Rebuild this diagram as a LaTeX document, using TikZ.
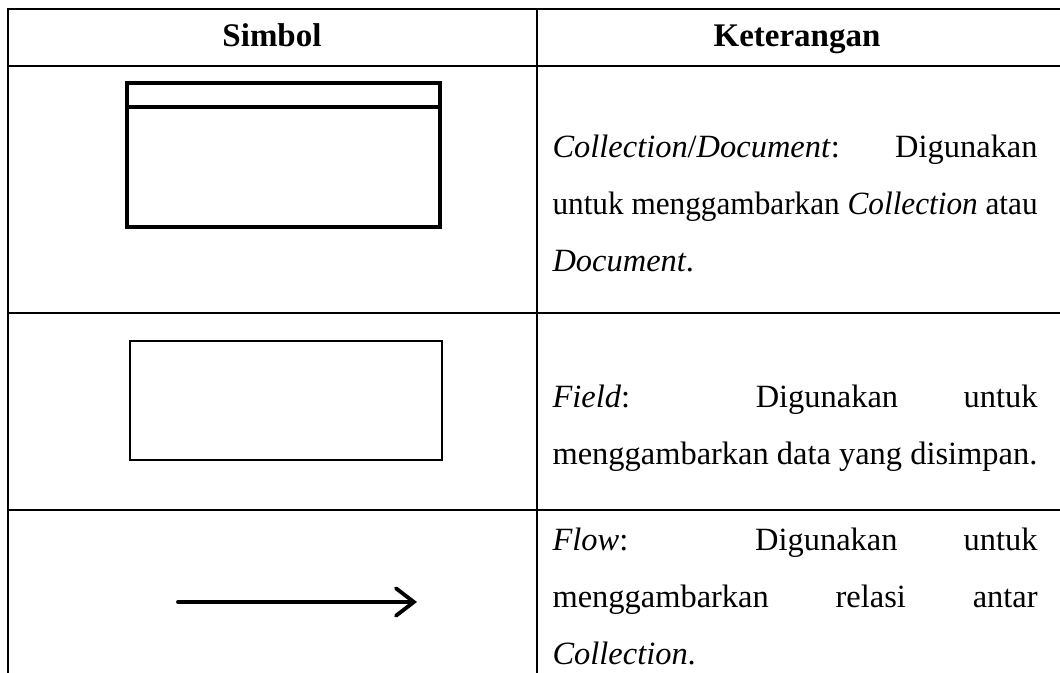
\documentclass[tikz,border=0pt]{standalone}
\usepackage{fontspec}
\setmainfont{Liberation Serif}
\usepackage{graphicx}
\usepackage{tikz}
\usetikzlibrary{arrows.meta}

\newcommand{\justline}[1]{\makebox[176.4pt][s]{#1}}
\newcommand{\tightline}[1]{\resizebox{176.4pt}{\height}{#1}}

\tikzset{
    tableline/.style={line width=0.75pt},
    headtext/.style={anchor=base, inner sep=0pt, font=\fontsize{12}{14}\selectfont\bfseries},
    celltext/.style={anchor=base west, inner sep=0pt, align=left, font=\fontsize{11.8}{20.6}\selectfont},
}

\begin{document}
\begin{tikzpicture}[x=0.36364pt, y=-0.36364pt]
    \useasboundingbox (0,0) rectangle (1060,673);

    % Table
    \draw [tableline] (1060,9) -- (8,9) -- (8,673);
    \draw [tableline] (537,9) to (537,673);
    \draw [tableline] (8,66) to (1060,66);
    \draw [tableline] (8,313) to (1060,313);
    \draw [tableline] (8,510) to (1060,510);

    % Header
    \node (simbol) at (272,46) [headtext] {Simbol};
    \node (keterangan) at (797,46) [headtext] {Keterangan};

    % Collection / Document (base = last line)
    \draw [line width=1.3pt] (127,83) rectangle (440,227);
    \draw [line width=1.3pt] (127,107) to (440,107);
    \node (colltext) at (552,271) [celltext]
        {\justline{\textit{Collection}/\textit{Document}: \hfill Digunakan}\\
         \tightline{untuk menggambarkan \textit{Collection} atau}\\
         \textit{Document}.};

    % Field
    \draw [line width=0.9pt] (130,341) rectangle (442,460);
    \node (fieldtext) at (552,464) [celltext]
        {\justline{\textit{Field}: Digunakan untuk}\\
         menggambarkan data yang disimpan.};

    % Flow
    \coordinate (flowstart) at (178,602);
    \coordinate (flowend) at (417,602);
    \draw [line width=1.4pt, line cap=round, -{Straight Barb[length=6.5pt, width=10pt, line cap=round]}] (flowstart) to (flowend);
    \node (flowtext) at (552,664) [celltext]
        {\justline{\textit{Flow}: Digunakan untuk}\\
         \justline{menggambarkan relasi antar}\\
         \textit{Collection}.};
\end{tikzpicture}
\end{document}
